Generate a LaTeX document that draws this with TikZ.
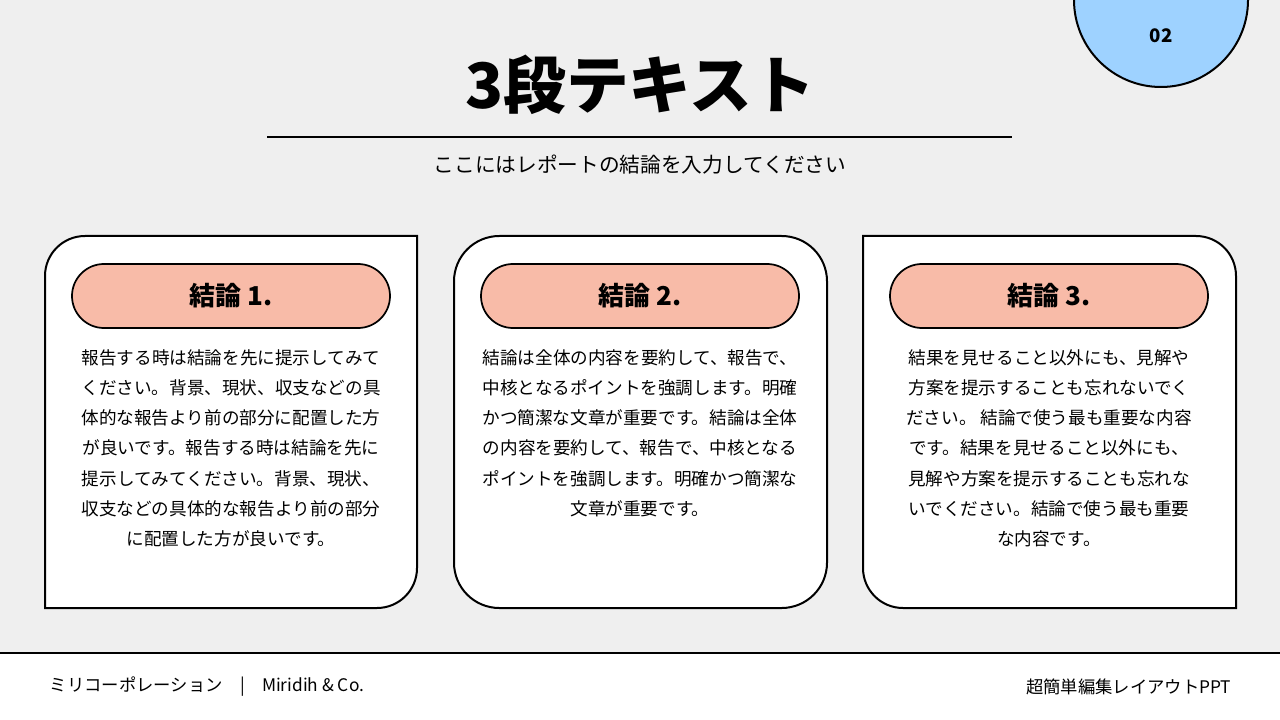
\documentclass[tikz,border=0pt]{standalone}
\usepackage{fontspec}
\setmainfont{Noto Sans CJK JP}
\begin{document}
\begin{tikzpicture}[x=0.75pt,y=-0.75pt,
  card/.style={draw=black,line width=1.5pt,fill=white},
  pill/.style={draw=black,line width=1.3pt,fill=pillc,rounded corners=24pt,minimum width=238.5pt,minimum height=48pt,font=\fontsize{19.5}{22}\selectfont\bfseries},
  body/.style={align=center,font=\fontsize{13.2}{22.6}\selectfont}]
\definecolor{bgc}{HTML}{EFEFEF}
\definecolor{pillc}{HTML}{F8BBA8}
\definecolor{circc}{HTML}{9ED2FF}
\useasboundingbox (0,0) rectangle (1280,720);
\fill[bgc] (0,0) rectangle (1280,653);
\fill[white] (0,653) rectangle (1280,720);
\draw[line width=1.5pt] (0,653) -- (1280,653);
\draw[draw=black,line width=1.5pt,fill=circc] (1161,0) circle[radius=87];
\node (num) at (1161,36) {\fontsize{14}{16}\selectfont\bfseries 02};
\node (title) at (640,85) {\fontsize{47}{50}\selectfont\bfseries 3段テキスト};
\draw[line width=1.5pt] (267,137) -- (1012,137);
\node (sub) at (640,165) {\fontsize{15.5}{18}\selectfont ここにはレポートの結論を入力してください};
% card 1
\draw[card] (45,608) -- (377,608) arc[start angle=90,end angle=0,radius=40] -- (417,236) -- (85,236) arc[start angle=270,end angle=180,radius=40] -- cycle;
% card 2
\draw[card,rounded corners=34pt] (454,236) rectangle (827,608);
% card 3
\draw[card] (863,236) -- (1196,236) arc[start angle=270,end angle=360,radius=40] -- (1236,608) -- (903,608) arc[start angle=90,end angle=180,radius=40] -- cycle;
\node[pill] (p1) at (231,296) {結論 1.};
\node[pill] (p2) at (640,296) {結論 2.};
\node[pill] (p3) at (1049,296) {結論 3.};
\node[body,anchor=north] (t1) at (231,345) {報告する時は結論を先に提示してみて\\ください。背景、現状、収支などの具\\体的な報告より前の部分に配置した方\\が良いです。報告する時は結論を先に\\提示してみてください。背景、現状、\\収支などの具体的な報告より前の部分\\に配置した方が良いです。};
\node[body,anchor=north] (t2) at (640,345) {結論は全体の内容を要約して、報告で、\\中核となるポイントを強調します。明確\\かつ簡潔な文章が重要です。結論は全体\\の内容を要約して、報告で、中核となる\\ポイントを強調します。明確かつ簡潔な\\文章が重要です。};
\node[body,anchor=north] (t3) at (1049,345) {結果を見せること以外にも、見解や\\方案を提示することも忘れないでく\\ださい。 結論で使う最も重要な内容\\です。結果を見せること以外にも、\\見解や方案を提示することも忘れな\\いでください。結論で使う最も重要\\な内容です。};
\node[anchor=west] (f1) at (45,687) {\fontsize{13}{15}\selectfont ミリコーポレーション\quad{}|\quad{}Miridih \& Co.};
\node[anchor=east] (f2) at (1236,687) {\fontsize{13}{15}\selectfont 超簡単編集レイアウトPPT};
\end{tikzpicture}
\end{document}
